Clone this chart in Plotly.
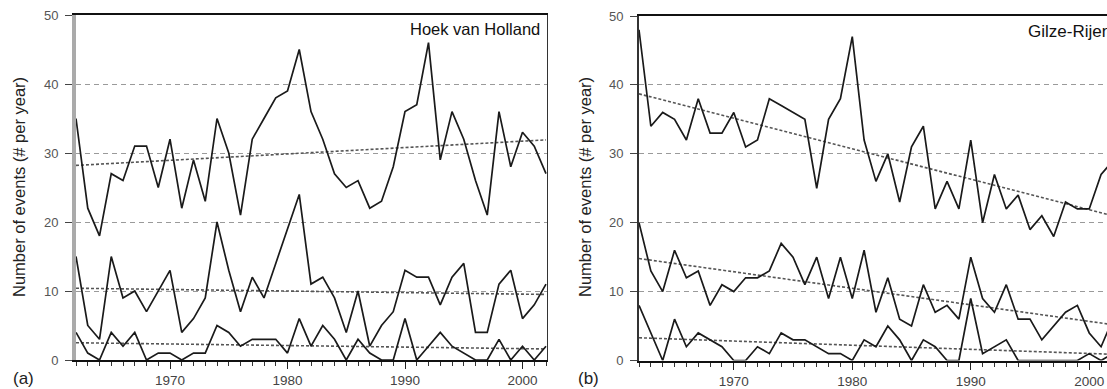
import plotly.graph_objects as go

W, H = 1107, 389

years = list(range(1962, 2003))
decade_ticks = [1970, 1980, 1990, 2000]
decade_labels = ["1970", "1980", "1990", "2000"]
y_ticks = [0, 10, 20, 30, 40, 50]

# Hoek van Holland (a)
hvh_top = [35, 22, 18, 27, 26, 31, 31, 25, 32, 22, 29, 23, 35, 30, 21, 32, 35, 38, 39, 45,
           36, 32, 27, 25, 26, 22, 23, 28, 36, 37, 46, 29, 36, 32, 26, 21, 36, 28, 33, 31, 27]
hvh_mid = [15, 5, 3, 15, 9, 10, 7, 10, 13, 4, 6, 9, 20, 13, 7, 12, 9, 14, 19, 24,
           11, 12, 9, 4, 10, 2, 5, 7, 13, 12, 12, 8, 12, 14, 4, 4, 11, 13, 6, 8, 11]
hvh_low = [4, 1, 0, 4, 2, 4, 0, 1, 1, 0, 1, 1, 5, 4, 2, 3, 3, 3, 1, 6,
           2, 5, 3, 0, 3, 1, 0, 0, 6, 0, 2, 4, 2, 1, 0, 0, 3, 0, 2, 0, 2]

# Gilze-Rijen (b)
gr_top = [48, 34, 36, 35, 32, 38, 33, 33, 36, 31, 32, 38, 37, 36, 35, 25, 35, 38, 47, 32,
          26, 30, 23, 31, 34, 22, 26, 22, 32, 20, 27, 22, 24, 19, 21, 18, 23, 22, 22, 27, 29]
gr_mid = [20, 13, 10, 16, 12, 13, 8, 11, 10, 12, 12, 13, 17, 15, 11, 15, 9, 15, 9, 16,
          7, 12, 6, 5, 11, 7, 8, 6, 15, 9, 7, 11, 6, 6, 3, 5, 7, 8, 4, 2, 6]
gr_low = [8, 4, 0, 6, 2, 4, 3, 2, 0, 0, 2, 1, 4, 3, 3, 2, 1, 1, 0, 3,
          2, 5, 3, 0, 3, 2, 0, 0, 9, 1, 2, 3, 0, 0, 0, 0, 0, 0, 1, 0, 1]

# Trend lines (values at start and end year)
trend_years = [1962, 2002]
hvh_trend_top = [28.2, 31.9]
hvh_trend_mid = [10.4, 9.5]
hvh_trend_low = [2.5, 1.6]
gr_trend_top = [38.7, 21.0]
gr_trend_mid = [14.8, 5.2]
gr_trend_low = [3.3, 0.9]

FONT = "Liberation Sans, Arial, sans-serif"
LINE_C = "#1a1a1a"
TREND_C = "#555555"

fig = go.Figure()

def add_panel(xa, ya, series, trends):
    for t in trends:
        fig.add_trace(go.Scatter(x=trend_years, y=t, mode="lines", xaxis=xa, yaxis=ya,
                                 line=dict(color=TREND_C, width=1.6, dash="3px,2px"),
                                 showlegend=False, hoverinfo="skip"))
    for s in series:
        fig.add_trace(go.Scatter(x=years, y=s, mode="lines", xaxis=xa, yaxis=ya,
                                 line=dict(color=LINE_C, width=1.7),
                                 showlegend=False))

add_panel("x", "y", [hvh_top, hvh_mid, hvh_low], [hvh_trend_top, hvh_trend_mid, hvh_trend_low])
add_panel("x2", "y2", [gr_top, gr_mid, gr_low], [gr_trend_top, gr_trend_mid, gr_trend_low])

def px_x(p):
    return p / W

def px_y(p):
    return 1 - p / H

common_x = dict(
    tickmode="array", tickvals=decade_ticks, ticktext=decade_labels, ticks="outside", ticklen=7,
    tickwidth=1.3, tickcolor="#222", showgrid=False, zeroline=False,
    showline=True, linecolor="#111", linewidth=2,
    tickfont=dict(family=FONT, size=13.5, color="#444"),
    minor=dict(tickmode="array", tickvals=years, ticks="outside", ticklen=4, tickwidth=1.3,
               tickcolor="#333", showgrid=False),
    automargin=False, fixedrange=True, ticklabelstandoff=0,
)
common_y = dict(
    range=[0, 50], tickvals=y_ticks, ticks="outside", ticklen=7, tickwidth=1.3, tickcolor="#444",
    showgrid=True, gridcolor="#9a9a9a", gridwidth=1.2, griddash="5px,4px",
    zeroline=False, tickfont=dict(family=FONT, size=13, color="#555"),
    automargin=False, fixedrange=True, ticklabelstandoff=4,
)

fig.update_layout(
    width=W, height=H, margin=dict(l=0, r=0, t=0, b=0),
    paper_bgcolor="white", plot_bgcolor="white",
    xaxis=dict(common_x, domain=[px_x(76), px_x(548)], range=[1962, 2002.17], anchor="y",
               mirror=True),
    yaxis=dict(common_y, domain=[px_y(360), px_y(15)], anchor="x",
               showline=True, linecolor="#aaaaaa", linewidth=4, mirror=False),
    xaxis2=dict(common_x, domain=[px_x(639), 1.0], range=[1962, 2001.5], anchor="y2",
                mirror=True),
    yaxis2=dict(common_y, domain=[px_y(360.5), px_y(16)], anchor="x2",
                showline=True, linecolor="#333", linewidth=2, mirror=False),
    showlegend=False,
)

# right frame for panel (a)
fig.add_shape(type="line", xref="x", yref="y", x0=2002.17, x1=2002.17, y0=0, y1=50,
              line=dict(color="#333", width=2))

ytitle = "Number of events (# per year)"
annos = [
    dict(text=ytitle, x=px_x(19), y=px_y(187), textangle=-90, font=dict(size=16.5, color="#222")),
    dict(text=ytitle, x=px_x(585), y=px_y(187), textangle=-90, font=dict(size=16.5, color="#222")),
    dict(text="(a)", x=px_x(23), y=px_y(378), font=dict(size=17, color="#222")),
    dict(text="(b)", x=px_x(588), y=px_y(378), font=dict(size=17, color="#222")),
    dict(text="Hoek van Holland", x=px_x(542), y=px_y(29), xanchor="right", font=dict(size=16.5, color="#111")),
    dict(text="Gilze-Rijen", x=px_x(1026), y=px_y(31), xanchor="left", font=dict(size=17, color="#111")),
]
for a in annos:
    a.setdefault("xanchor", "center")
    a["yanchor"] = "middle"
    a["xref"] = "paper"
    a["yref"] = "paper"
    a["showarrow"] = False
    a["font"]["family"] = FONT
    fig.add_annotation(**a)

fig.write_html("out.html")
